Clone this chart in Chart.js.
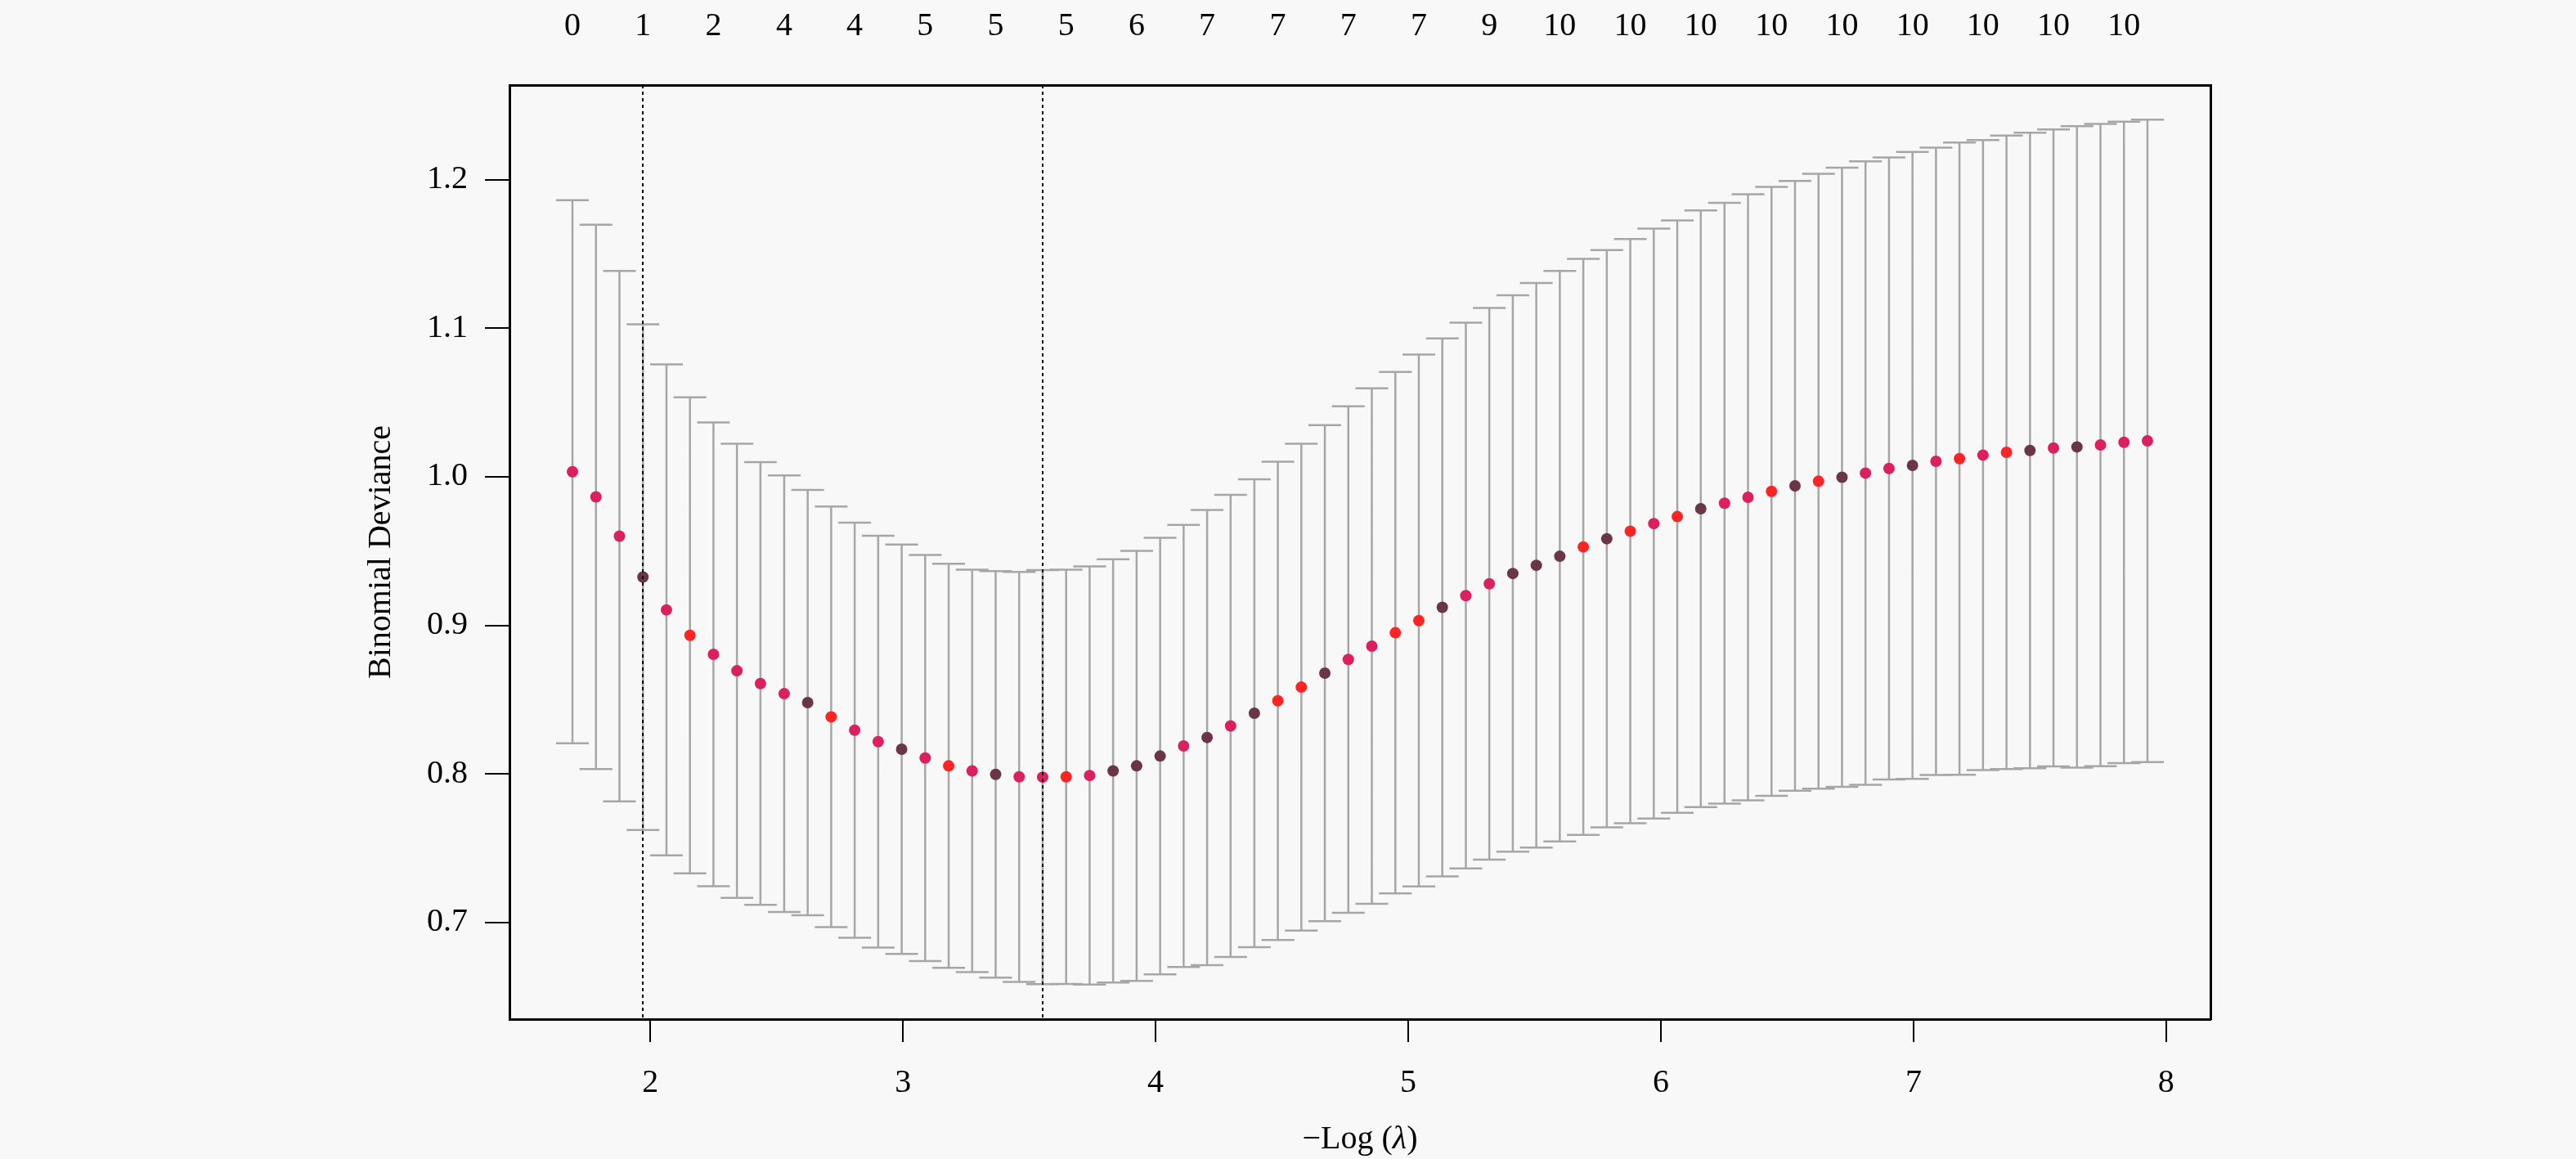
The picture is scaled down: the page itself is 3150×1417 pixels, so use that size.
<!DOCTYPE html>
<html lang="en">
<head>
    <meta charset="UTF-8">
    <title>cv.glmnet binomial deviance</title>
    <script src="https://cdn.jsdelivr.net/npm/chart.js@4.4.0/dist/chart.umd.min.js"></script>
    <style>
        body { margin: 0; background: #f8f8f8; }
        canvas { display: block; }
    </style>
</head>
<body>

    <canvas id="recuadro" width="3150" height="1417"></canvas>

    <script>
        // -log(lambda) for each lambda in the path
        const logLambda = [
            1.692, 1.785, 1.878, 1.971, 2.064, 2.157, 2.250, 2.343, 2.436, 2.530,
            2.623, 2.716, 2.809, 2.902, 2.995, 3.088, 3.181, 3.274, 3.367, 3.460,
            3.553, 3.646, 3.739, 3.832, 3.925, 4.018, 4.111, 4.204, 4.297, 4.391,
            4.484, 4.577, 4.670, 4.763, 4.856, 4.949, 5.042, 5.135, 5.228, 5.321,
            5.414, 5.507, 5.600, 5.693, 5.786, 5.879, 5.972, 6.065, 6.158, 6.252,
            6.345, 6.438, 6.531, 6.624, 6.717, 6.810, 6.903, 6.996, 7.089, 7.182,
            7.275, 7.368, 7.461, 7.554, 7.647, 7.740, 7.833, 7.926
        ];
        // mean cross-validated deviance
        const cvm = [
            1.0034, 0.9865, 0.9600, 0.9325, 0.9104, 0.8933, 0.8805, 0.8694, 0.8608, 0.8540,
            0.8480, 0.8384, 0.8294, 0.8217, 0.8166, 0.8107, 0.8054, 0.8020, 0.7997, 0.7980,
            0.7978, 0.7980, 0.7989, 0.8020, 0.8054, 0.8120, 0.8188, 0.8245, 0.8323, 0.8408,
            0.8492, 0.8584, 0.8678, 0.8770, 0.8860, 0.8950, 0.9032, 0.9121, 0.9200, 0.9280,
            0.9349, 0.9404, 0.9465, 0.9528, 0.9583, 0.9634, 0.9685, 0.9732, 0.9785, 0.9822,
            0.9862, 0.9902, 0.9939, 0.9970, 0.9997, 1.0025, 1.0056, 1.0077, 1.0104, 1.0122,
            1.0146, 1.0165, 1.0177, 1.0194, 1.0201, 1.0214, 1.0232, 1.0242
        ];
        // upper end of error bar
        const cvup = [
            1.1862, 1.1697, 1.1385, 1.1027, 1.0756, 1.0535, 1.0366, 1.0223, 1.0098, 1.0009,
            0.9911, 0.9800, 0.9691, 0.9603, 0.9544, 0.9474, 0.9414, 0.9374, 0.9365, 0.9360,
            0.9372, 0.9374, 0.9396, 0.9445, 0.9501, 0.9590, 0.9676, 0.9777, 0.9878, 0.9983,
            1.0102, 1.0223, 1.0348, 1.0475, 1.0595, 1.0705, 1.0822, 1.0932, 1.1037, 1.1137,
            1.1222, 1.1304, 1.1385, 1.1467, 1.1526, 1.1600, 1.1671, 1.1726, 1.1793, 1.1844,
            1.1902, 1.1952, 1.1991, 1.2040, 1.2081, 1.2123, 1.2150, 1.2187, 1.2215, 1.2250,
            1.2266, 1.2297, 1.2316, 1.2338, 1.2360, 1.2376, 1.2391, 1.2404
        ];
        // lower end of error bar
        const cvlo = [
            0.8206, 0.8033, 0.7815, 0.7623, 0.7452, 0.7331, 0.7244, 0.7165, 0.7118, 0.7071,
            0.7049, 0.6968, 0.6897, 0.6831, 0.6788, 0.6740, 0.6694, 0.6666, 0.6629, 0.6600,
            0.6584, 0.6586, 0.6582, 0.6595, 0.6607, 0.6650, 0.6700, 0.6713, 0.6768, 0.6833,
            0.6882, 0.6945, 0.7008, 0.7065, 0.7125, 0.7195, 0.7242, 0.7310, 0.7363, 0.7423,
            0.7476, 0.7504, 0.7545, 0.7589, 0.7640, 0.7668, 0.7699, 0.7738, 0.7777, 0.7800,
            0.7822, 0.7852, 0.7887, 0.7900, 0.7913, 0.7927, 0.7962, 0.7967, 0.7993, 0.7994,
            0.8026, 0.8033, 0.8038, 0.8050, 0.8042, 0.8052, 0.8073, 0.8080
        ];
        // number of nonzero coefs, shown over every third lambda
        const nzeroLabels = [0, 1, 2, 4, 4, 5, 5, 5, 6, 7, 7, 7, 7, 9, 10, 10, 10, 10, 10, 10, 10, 10, 10];
        const xTickValues = [2, 3, 4, 5, 6, 7, 8];
        const yTickValues = [0.7, 0.8, 0.9, 1.0, 1.1, 1.2];
        const logLambda1se = 1.971;
        const logLambdaMin = 3.553;

        // point colours (style only)
        const C = '#dc1f5e', R = '#ff2424', D = '#6b3548';
        const pointColors = [
            C, C, C, D, C, R, C, C, C, C,
            D, R, C, C, D, C, R, C, D, C,
            C, R, C, D, D, D, C, D, C, D,
            R, R, D, C, C, R, R, D, C, C,
            D, D, D, R, D, R, C, R, D, C,
            C, R, D, R, D, C, C, D, C, R,
            C, R, D, C, D, C, C, C
        ];

        const barColor = '#a6a6a6';
        const serif = 'Liberation Serif';

        // axis limits like R (4% extension)
        function extend(lo, hi) {
            const p = 0.04 * (hi - lo);
            return [lo - p, hi + p];
        }
        const [xMin, xMax] = extend(Math.min(...logLambda), Math.max(...logLambda));
        const [yMin, yMax] = extend(Math.min(...cvlo), Math.max(...cvup));

        const nzeroAt = logLambda.filter((v, i) => i % 3 === 0);

        const meanPoints = logLambda.map((v, i) => ({ x: v, y: cvm[i] }));
        const capPoints = logLambda.flatMap((v, i) => [{ x: v, y: cvup[i] }, { x: v, y: cvlo[i] }]);
        const barPoints = logLambda.flatMap((v, i) => [{ x: v, y: cvlo[i] }, { x: v, y: cvup[i] }, { x: v, y: null }]);

        // dotted lines at lambda.1se and lambda.min
        const markerLines = {
            id: 'markerLines',
            afterDatasetsDraw(chart) {
                const { ctx, chartArea, scales } = chart;
                ctx.save();
                ctx.strokeStyle = '#000';
                ctx.lineWidth = 2;
                ctx.setLineDash([4, 4]);
                [logLambda1se, logLambdaMin].forEach(v => {
                    const px = Math.round(scales.x.getPixelForValue(v));
                    ctx.beginPath();
                    ctx.moveTo(px, chartArea.top);
                    ctx.lineTo(px, chartArea.bottom);
                    ctx.stroke();
                });
                ctx.restore();
            }
        };

        // x title with italic lambda
        const xTitle = {
            id: 'xTitle',
            afterDraw(chart) {
                const { ctx, chartArea, scales } = chart;
                const parts = [
                    ['\u2212Log (', '40px "' + serif + '"'],
                    ['\u03bb', 'italic 40px "' + serif + '"'],
                    [')', '40px "' + serif + '"']
                ];
                ctx.save();
                let total = 0;
                parts.forEach(p => { ctx.font = p[1]; total += ctx.measureText(p[0]).width; });
                let x = (chartArea.left + chartArea.right) / 2 - total / 2;
                const y = scales.x.bottom - 24;
                ctx.fillStyle = '#000';
                ctx.textBaseline = 'middle';
                ctx.textAlign = 'left';
                parts.forEach(p => {
                    ctx.font = p[1];
                    ctx.fillText(p[0], x, y);
                    x += ctx.measureText(p[0]).width;
                });
                ctx.restore();
            }
        };

        const ctx = document.getElementById('recuadro').getContext('2d');

        const myChart = new Chart(ctx, {
            type: 'scatter',
            data: {
                datasets: [
                    {
                        data: meanPoints,
                        pointRadius: 7,
                        pointBorderWidth: 0,
                        pointBackgroundColor: pointColors,
                        showLine: false
                    },
                    {
                        data: capPoints,
                        pointStyle: 'line',
                        pointRadius: 20,
                        pointBorderWidth: 2.5,
                        pointBorderColor: barColor,
                        showLine: false
                    },
                    {
                        data: barPoints,
                        showLine: true,
                        spanGaps: false,
                        borderColor: barColor,
                        borderWidth: 2.5,
                        pointRadius: 0
                    }
                ]
            },
            options: {
                responsive: false,
                devicePixelRatio: 1,
                animation: false,
                layout: { padding: 0 },
                plugins: {
                    legend: { display: false },
                    tooltip: { enabled: false }
                },
                scales: {
                    x: {
                        type: 'linear',
                        position: 'bottom',
                        min: xMin,
                        max: xMax,
                        afterBuildTicks: s => { s.ticks = xTickValues.map(v => ({ value: v })); },
                        afterFit: s => { s.height = 171; },
                        grid: { drawOnChartArea: false, color: '#000', lineWidth: 2, tickLength: 28 },
                        border: { display: true, color: '#000', width: 3 },
                        ticks: {
                            autoSkip: false, maxRotation: 0, padding: 26,
                            color: '#000', font: { family: serif, size: 40 },
                            callback: v => String(v)
                        }
                    },
                    x2: {
                        type: 'linear',
                        position: 'top',
                        min: xMin,
                        max: xMax,
                        afterBuildTicks: s => { s.ticks = nzeroAt.map(v => ({ value: v })); },
                        afterFit: s => { s.height = 104; },
                        grid: { display: false, drawTicks: false },
                        border: { display: true, color: '#000', width: 3 },
                        ticks: {
                            autoSkip: false, maxRotation: 0, padding: 48,
                            color: '#000', font: { family: serif, size: 40 },
                            callback: (v, i) => String(nzeroLabels[i])
                        }
                    },
                    y: {
                        type: 'linear',
                        position: 'left',
                        min: yMin,
                        max: yMax,
                        afterBuildTicks: s => { s.ticks = yTickValues.map(v => ({ value: v })); },
                        afterFit: s => { s.width = 623; },
                        grid: { drawOnChartArea: false, color: '#000', lineWidth: 2, tickLength: 30 },
                        border: { display: true, color: '#000', width: 3 },
                        ticks: {
                            padding: 21, color: '#000', font: { family: serif, size: 40 },
                            callback: v => v.toFixed(1)
                        },
                        title: {
                            display: true, text: 'Binomial Deviance', color: '#000',
                            font: { family: serif, size: 40 }, padding: { top: 442, bottom: 0 }
                        }
                    },
                    y2: {
                        type: 'linear',
                        position: 'right',
                        min: yMin,
                        max: yMax,
                        afterFit: s => { s.width = 447; },
                        grid: { display: false, drawTicks: false },
                        border: { display: true, color: '#000', width: 3 },
                        ticks: { display: false }
                    }
                }
            },
            plugins: [markerLines, xTitle]
        });
    </script>

</body>
</html>
